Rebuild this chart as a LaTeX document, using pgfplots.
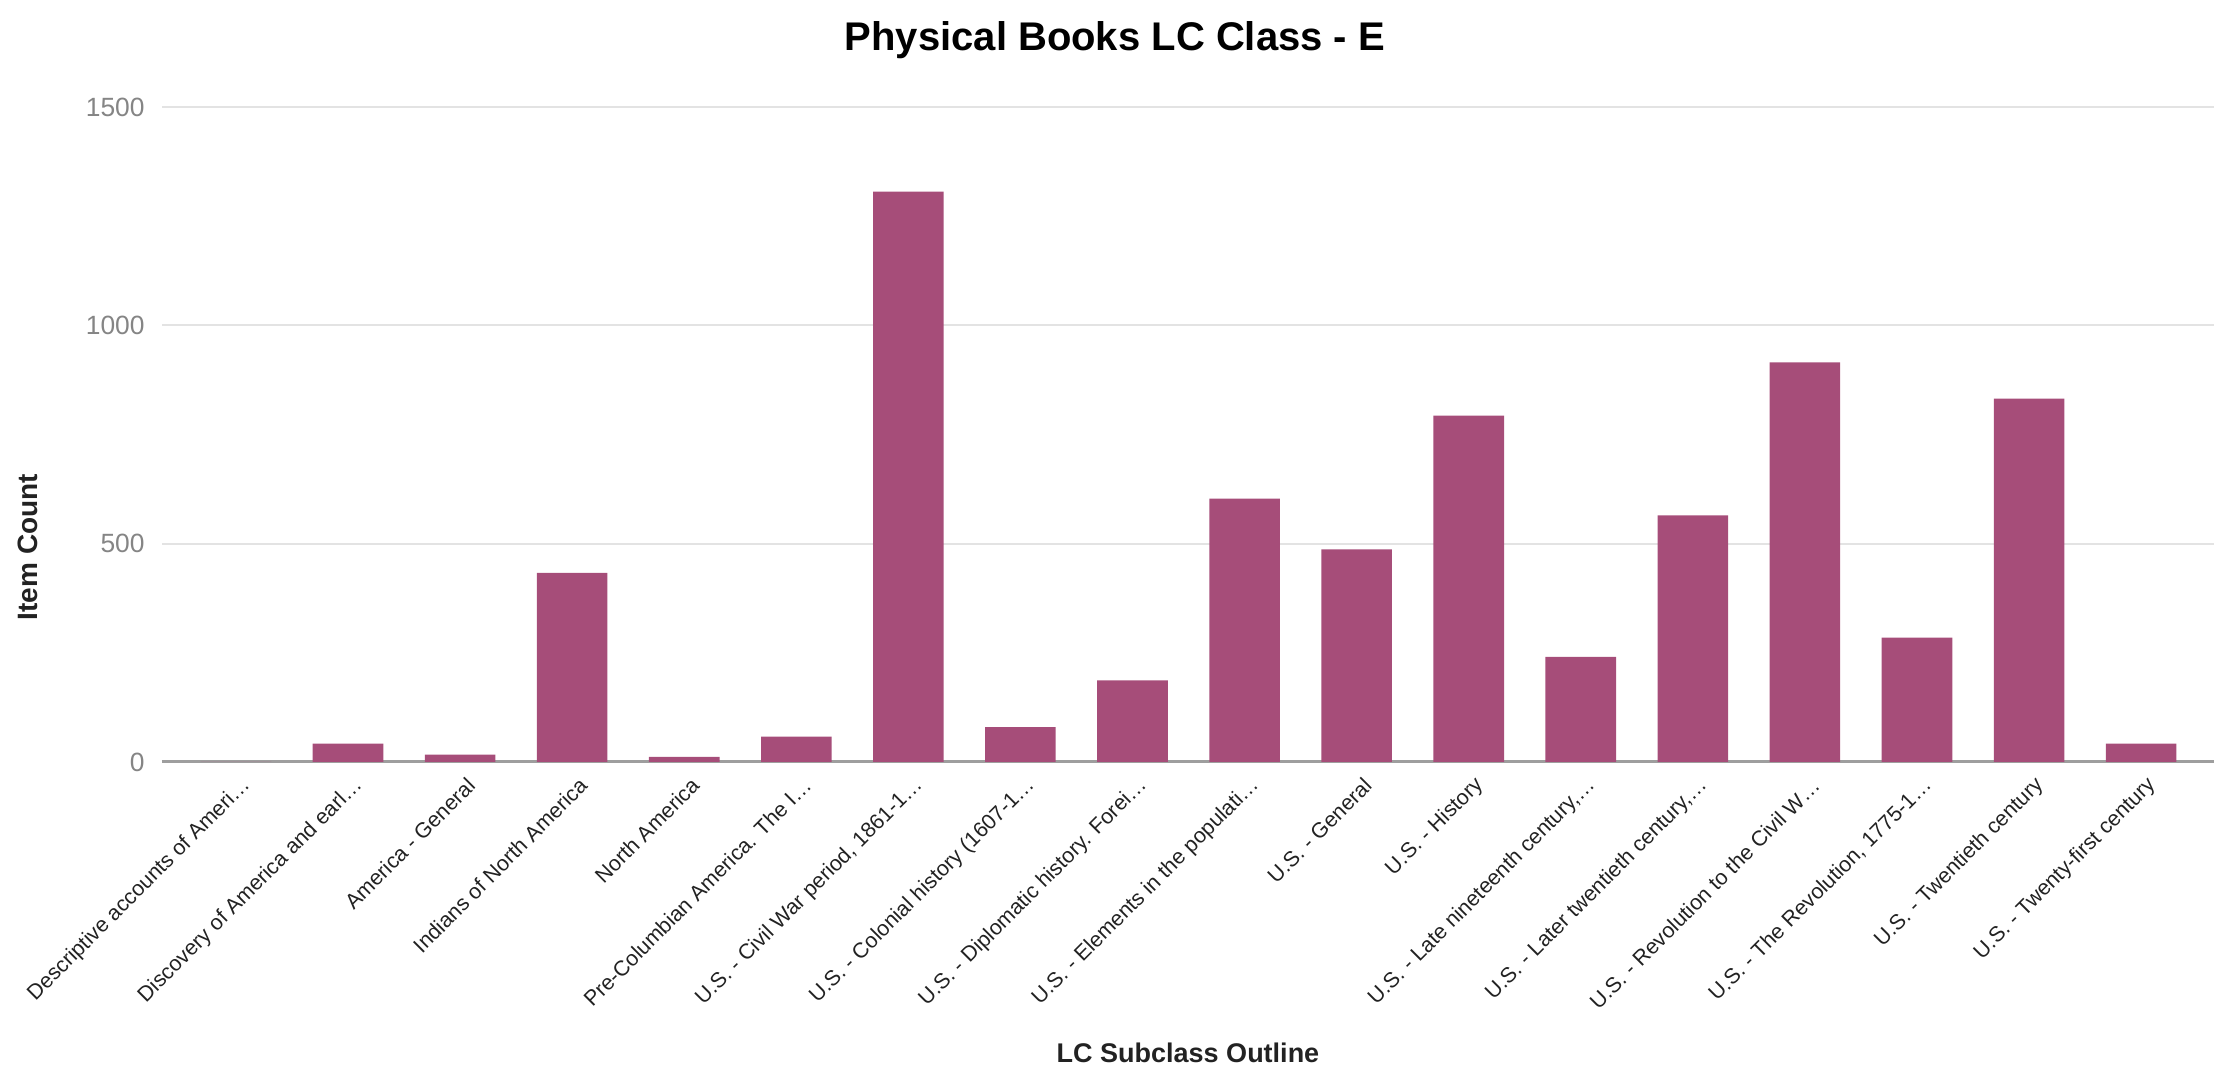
\documentclass[border=0pt]{standalone}
\usepackage{fontspec}
\setmainfont{Liberation Sans}
\usepackage{pgfplots}
\pgfplotsset{compat=1.18}
\definecolor{barc}{HTML}{A64D79}
\definecolor{gridc}{HTML}{E3E3E3}
\definecolor{zeroc}{HTML}{9E9E9E}
\definecolor{ytickc}{HTML}{858585}
\definecolor{xtickc}{HTML}{222222}
\begin{document}
\begin{tikzpicture}
\path[use as bounding box] (-81pt,-153.5pt) rectangle (1026pt,381pt);
\begin{axis}[
  at={(0,0)}, anchor=south west,
  scale only axis, width=1026pt, height=327.5pt,
  xmin=-0.66, xmax=17.65, ymin=0, ymax=1500,
  enlargelimits=false,
  ybar, bar width=0.63,
  xtick={0,...,17},
  xticklabels={Descriptive accounts of Ameri…,Discovery of America and earl…,America - General,Indians of North America,North America,Pre-Columbian America. The I…,{U.S. - Civil War period, 1861-1…},U.S. - Colonial history (1607-1…,U.S. - Diplomatic history. Forei…,U.S. - Elements in the populati…,U.S. - General,U.S. - History,{U.S. - Late nineteenth century,…},{U.S. - Later twentieth century,…},U.S. - Revolution to the Civil W…,{U.S. - The Revolution, 1775-1…},U.S. - Twentieth century,U.S. - Twenty-first century},
  ytick={0,500,1000,1500},
  /pgf/number format/.cd, 1000 sep={}, assume math mode=true, /pgfplots/.cd,
  ymajorgrids, grid style={gridc, line width=1pt},
  axis x line*=bottom, axis y line*=left,
  x axis line style={-, zeroc, line width=1.5pt},
  y axis line style={draw=none},
  tick style={draw=none},
  xticklabel style={rotate=45, anchor=east, inner sep=0pt, font=\fontsize{10.7}{13}\selectfont, text=xtickc, xshift=0pt, yshift=-8pt},
  yticklabel style={anchor=east, inner sep=0pt, font=\fontsize{13.2}{15}\selectfont, text=ytickc, xshift=-8.5pt},
  title={Physical Books LC Class - E},
  title style={at={(axis description cs:0.4644,1.084)}, anchor=center, font=\bfseries\fontsize{20}{24}\selectfont, text=black},
  xlabel={LC Subclass Outline},
  xlabel style={at={(axis description cs:0.5,-0.4443)}, anchor=center, font=\bfseries\fontsize{13.5}{16}\selectfont, text=xtickc},
  ylabel={Item Count},
  ylabel style={at={(axis description cs:-0.0653,0.328)}, anchor=center, rotate=0, font=\bfseries\fontsize{14}{16}\selectfont, text=xtickc},
]
\addplot[fill=barc, draw=none] coordinates {
 (0,0) (1,42) (2,17) (3,433) (4,12) (5,58) (6,1306) (7,80) (8,187)
 (9,603) (10,487) (11,793) (12,241) (13,565) (14,915) (15,285) (16,832) (17,42)
};
\end{axis}
\end{tikzpicture}
\end{document}
